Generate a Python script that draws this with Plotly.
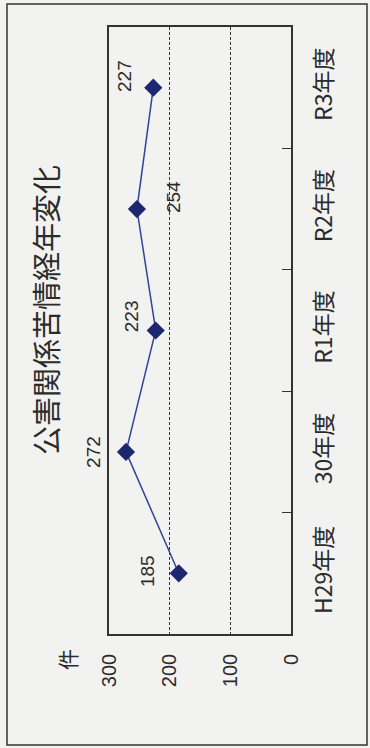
import plotly.graph_objects as go

categories = ["H29年度", "30年度", "R1年度", "R2年度", "R3年度"]
values = [185, 272, 223, 254, 227]
value_ticks = [0, 100, 200, 300]
title_text = "公害関係苦情経年変化"
unit_text = "件"

# label offsets (pixels) for data labels
label_dx = [-31, -32, -24, 36, -29]
label_dy = [2, 0, 14, 12, 12]

FONT_NUM = "Liberation Sans Narrow, Liberation Sans, Noto Sans CJK JP, sans-serif"
FONT_CJK = "Noto Sans CJK JP, sans-serif"
INK = "#2b2b2b"
BG = "#f2f2f0"

W, H = 370, 748
L, R, T, B = 109, 79, 27, 114
pw, ph = W - L - R, H - T - B

def px_to_paper_x(px):
    return (px - L) / pw

def px_to_paper_y(py):
    return (H - B - py) / ph

fig = go.Figure()
fig.add_trace(go.Scatter(
    x=values, y=categories, mode="lines+markers",
    line=dict(color="#34429a", width=1.5),
    marker=dict(symbol="diamond", size=14, color="#1c2770"),
    hoverinfo="skip", showlegend=False,
))

for v, c, dx, dy in zip(values, categories, label_dx, label_dy):
    fig.add_annotation(x=v, y=c, xref="x", yref="y", text=str(v), showarrow=False,
                       textangle=-90, xshift=dx, yshift=dy,
                       font=dict(family=FONT_NUM, size=19, color=INK))

fig.add_annotation(x=px_to_paper_x(45), y=px_to_paper_y(310), xref="paper", yref="paper",
                   xanchor="center", yanchor="middle",
                   text=title_text, showarrow=False, textangle=-90,
                   font=dict(family=FONT_CJK, size=29, color=INK))
fig.add_annotation(x=px_to_paper_x(67), y=px_to_paper_y(660), xref="paper", yref="paper",
                   xanchor="center", yanchor="middle",
                   text=unit_text, showarrow=False, textangle=-90,
                   font=dict(family=FONT_CJK, size=21, color=INK))

# outer frame
fig.add_shape(type="rect", xref="paper", yref="paper",
              x0=px_to_paper_x(7), x1=px_to_paper_x(367),
              y0=px_to_paper_y(745), y1=px_to_paper_y(4),
              line=dict(color="#333333", width=1.5), layer="below")

fig.update_layout(
    width=W, height=H,
    margin=dict(l=L, r=R, t=T, b=B, autoexpand=False),
    paper_bgcolor=BG, plot_bgcolor=BG,
    xaxis=dict(range=[300, 0], tickvals=value_ticks, ticktext=[str(v) for v in value_ticks],
               tickangle=-90, showgrid=True, gridcolor="#333333", griddash="3px,2px", gridwidth=1,
               zeroline=False, showline=True, linecolor="#333333", linewidth=1.5, mirror=True,
               ticks="", ticklabelstandoff=10, automargin=False,
               tickfont=dict(family=FONT_NUM, size=20, color=INK), fixedrange=True),
    yaxis=dict(type="category", categoryorder="array", categoryarray=categories,
               range=[-0.5, len(categories) - 0.5],
               side="right", tickangle=-90, tickson="boundaries", ticks="inside", ticklen=9,
               tickcolor="#333333", showgrid=False, showline=True, linecolor="#333333",
               linewidth=1.5, mirror=True, ticklabelstandoff=12, automargin=False,
               tickfont=dict(family=FONT_CJK, size=23, color=INK), fixedrange=True),
)

fig.write_html("out.html")
